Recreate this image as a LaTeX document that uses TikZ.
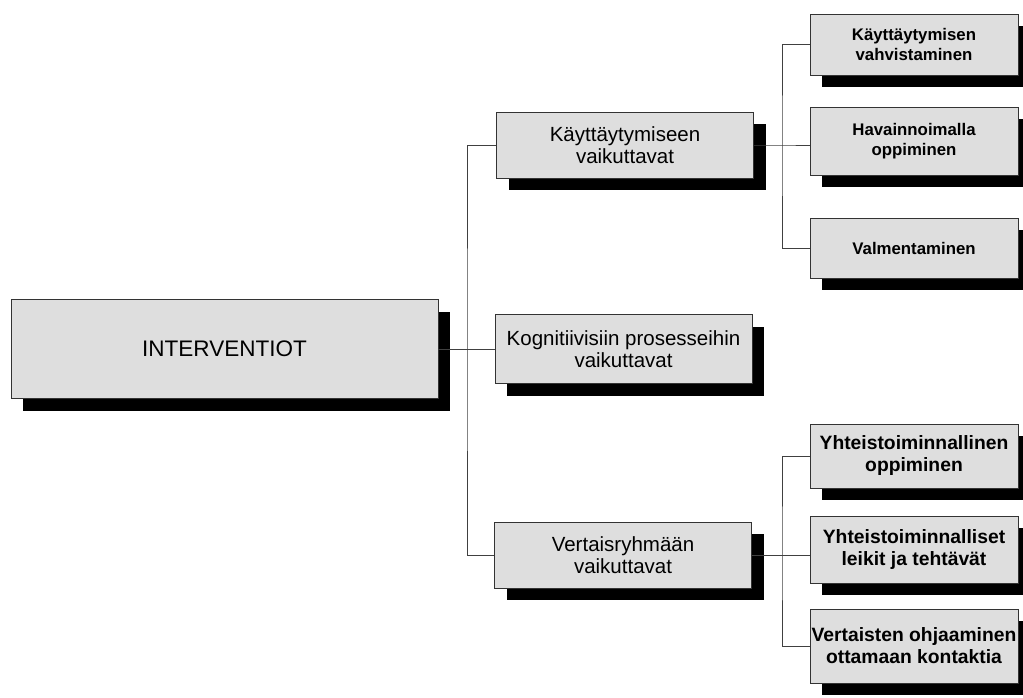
\documentclass[tikz,border=0pt]{standalone}
\usepackage{fontspec}
\setmainfont{Liberation Sans}
\usetikzlibrary{shadows}
\begin{document}
\begin{tikzpicture}[x=1pt,y=-1pt,
  box/.style={draw=black!80, line width=0.8pt, fill=black!13, align=center, inner sep=0pt,
    general shadow={fill=black, shadow xshift=12pt, shadow yshift=-12pt}},
  rootbox/.style={box, minimum width=427pt, minimum height=99pt, font=\fontsize{22.5}{26}\selectfont},
  midbox/.style={box, minimum width=257pt, minimum height=66pt, font=\fontsize{20.5}{22}\selectfont},
  leafbox/.style={box, minimum width=208pt, font=\fontsize{16.8}{20.5}\selectfont\bfseries},
  bigleaf/.style={leafbox, font=\fontsize{19.3}{22}\selectfont\bfseries},
  link/.style={draw=black!75, line width=0.7pt}]
\useasboundingbox (0,0) rectangle (1023,697);

\node[rootbox] (root) at (224.5,349) {INTERVENTIOT};

\node[midbox] (beh) at (625,145) {Käyttäytymiseen\\vaikuttavat};
\node[midbox, minimum height=69pt] (cog) at (623.5,349) {Kognitiivisiin prosesseihin\\vaikuttavat};
\node[midbox] (peer) at (623,555) {Vertaisryhmään\\vaikuttavat};

\node[leafbox, minimum height=61pt] (r1) at (914,44.5) {Käyttäytymisen\\vahvistaminen};
\node[leafbox, minimum height=68pt] (r2) at (914,141) {Havainnoimalla\\oppiminen};
\node[leafbox, minimum height=60pt] (r3) at (914,248) {Valmentaminen};

\node[bigleaf, minimum height=64pt] (r4) at (914,456) {Yhteistoiminnallinen\\oppiminen};
\node[bigleaf, minimum height=67pt] (r5) at (914,549.5) {Yhteistoiminnalliset\\leikit ja tehtävät};
\node[bigleaf, minimum height=74pt] (r6) at (914,646) {Vertaisten ohjaaminen\\ottamaan kontaktia};

\coordinate (s1) at (467,349);
\coordinate (s2) at (782,145);
\coordinate (s3) at (782,555);

\path[link] (root.east) -- (cog.west);
\path[link] (beh.west) -| (s1) |- (peer.west);

\path[link] (beh.east) -- (s2) -- (s2 -| r2.west);
\path[link] (r1.west) -| (s2) |- (r3.west);

\path[link] (peer.east) -- (s3) -- (s3 -| r5.west);
\path[link] (r4.west) -| (s3) |- (r6.west);
\end{tikzpicture}
\end{document}
